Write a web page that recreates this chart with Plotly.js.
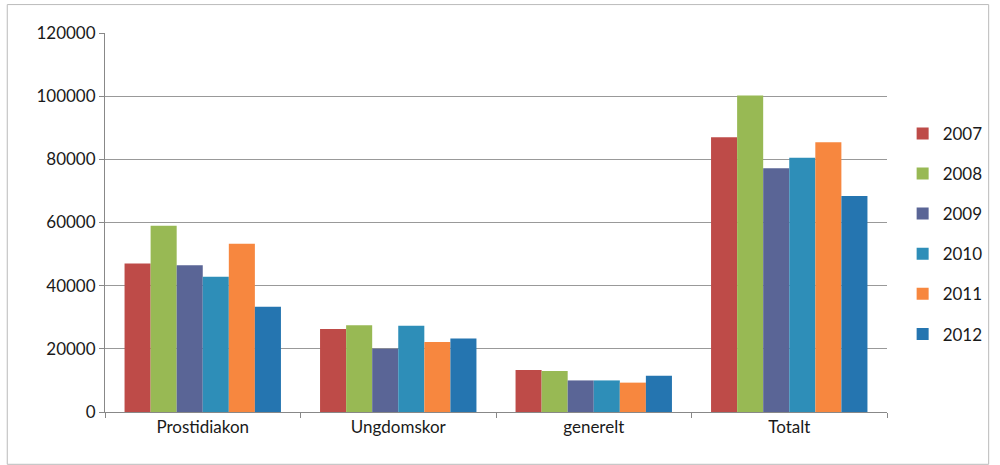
<!DOCTYPE html>
<html><head><meta charset="utf-8">
<script src="https://cdn.plot.ly/plotly-3.0.1.min.js"></script>
<style>html,body{margin:0;padding:0;background:#fff}#c{width:1000px;height:465px}</style>
</head><body><div id="c"></div>
<script>
var categories = ["Prostidiakon", "Ungdomskor", "generelt", "Totalt"];
var years = ["2007", "2008", "2009", "2010", "2011", "2012"];
var v2007 = [47000, 26300, 13300, 87000];
var v2008 = [59000, 27500, 13000, 100200];
var v2009 = [46500, 20000, 10000, 77200];
var v2010 = [42800, 27300, 10000, 80500];
var v2011 = [53300, 22200, 9300, 85400];
var v2012 = [33300, 23300, 11500, 68400];
var series = [v2007, v2008, v2009, v2010, v2011, v2012];
var colors = ["#BE4B48", "#98B954", "#5A6596", "#2E8EB8", "#F7873F", "#2575B0"];

var traces = series.map(function(vals, i){
  return {type:"bar", name: years[i], x: categories, y: vals, legendgroup: years[i],
          marker:{color: colors[i]}};
});
var layout = {
  width:1000, height:465,
  margin:{l:105, r:110, t:33, b:53},
  paper_bgcolor:"#fff", plot_bgcolor:"#fff",
  font:{family:"Lato, 'Open Sans', sans-serif", color:"#1a1a1a"},
  barmode:"group", bargap:0.2, bargroupgap:0,
  xaxis:{tickson:"boundaries", ticks:"outside", ticklen:5, tickcolor:"#888",
         showline:true, linecolor:"#888", showgrid:false,
         tickfont:{size:17, color:"#1a1a1a"}},
  yaxis:{range:[0,120000], dtick:20000, tickformat:"d", ticks:"outside", ticklen:5,
         tickcolor:"#888", showline:true, linecolor:"#888",
         gridcolor:"#999", gridwidth:1, zeroline:false,
         tickfont:{size:17, color:"#1a1a1a"}},
  legend:{x:1.02, y:0.47, xanchor:"left", yanchor:"middle", traceorder:"grouped",
          font:{size:17, color:"#1a1a1a"}, tracegroupgap:15, itemwidth:20},
  shapes:[{type:"rect", xref:"paper", yref:"paper", x0:-0.125, x1:1.13, y0:-0.138, y1:1.075,
           line:{color:"#bbb", width:1}}],
  showlegend:true
};
Plotly.newPlot("c", traces, layout, {displayModeBar:false, staticPlot:true});
</script></body></html>
